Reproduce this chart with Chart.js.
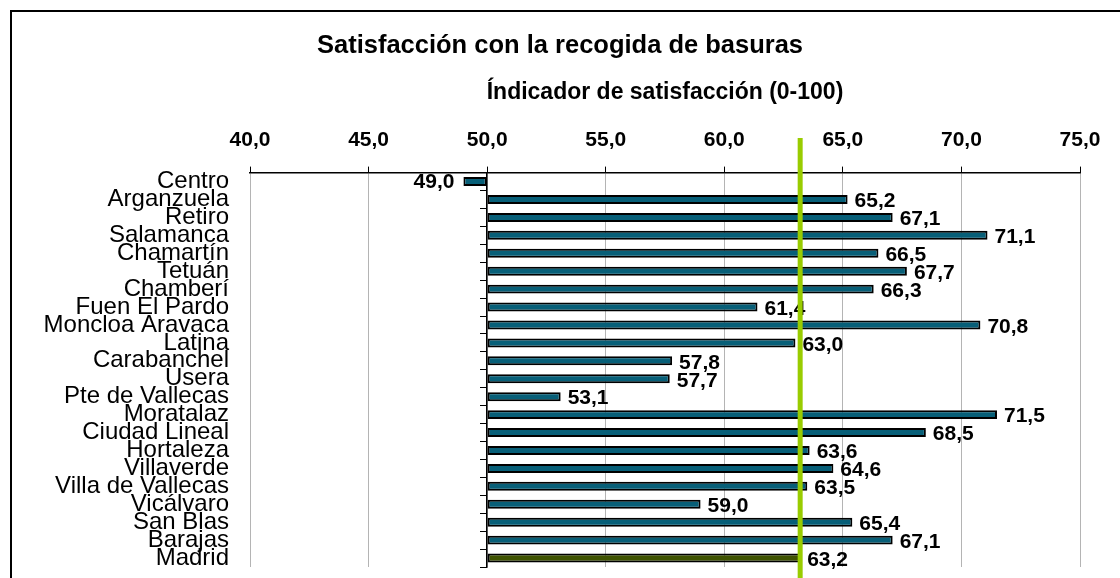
<!DOCTYPE html>
<html>
<head>
<meta charset="utf-8">
<script src="https://cdn.jsdelivr.net/npm/chart.js@4/dist/chart.umd.min.js"></script>
<style>
  body { margin: 0; background: #fff; }
  .wrap { position: relative; width: 1120px; height: 578px; overflow: hidden; }
  .frame { position: absolute; left: 10px; top: 10px; width: 1300px; height: 800px;
    border-left: 2px solid #000; border-top: 2px solid #000; pointer-events: none; }
</style>
</head>
<body>
<div class="wrap">
  <canvas id="myChart" width="1120" height="578"></canvas>
  <div class="frame"></div>
</div>
<script>
const districts = ['Centro', 'Arganzuela', 'Retiro', 'Salamanca', 'Chamartín', 'Tetuán', 'Chamberí',
  'Fuen El Pardo', 'Moncloa Aravaca', 'Latina', 'Carabanchel', 'Usera', 'Pte de Vallecas', 'Moratalaz',
  'Ciudad Lineal', 'Hortaleza', 'Villaverde', 'Villa de Vallecas', 'Vicálvaro', 'San Blas', 'Barajas', 'Madrid'];
const satisfaction = [49.0, 65.2, 67.1, 71.1, 66.5, 67.7, 66.3, 61.4, 70.8, 63.0, 57.8, 57.7, 53.1, 71.5,
  68.5, 63.6, 64.6, 63.5, 59.0, 65.4, 67.1, 63.2];
const axisTicks = [40, 45, 50, 55, 60, 65, 70, 75];
const barBase = 50;
const madridAverage = 63.2;

const fontFamily = '"Liberation Sans", Arial, sans-serif';
const colors = {
  bar: '#075f78',
  madrid: '#3f5300',
  line: '#99cc00',
  grid: '#b4b4b4',
};

const fmt = (v) => v.toFixed(1).replace('.', ',');

const barColors = districts.map((d) => (d === 'Madrid' ? colors.madrid : colors.bar));

// value labels next to the end of each bar
const valueLabels = {
  id: 'valueLabels',
  afterDatasetsDraw(chart) {
    const ctx = chart.ctx;
    const meta = chart.getDatasetMeta(0);
    ctx.save();
    ctx.font = 'bold 21px ' + fontFamily;
    ctx.fillStyle = '#000';
    ctx.textBaseline = 'middle';
    meta.data.forEach((bar, i) => {
      const v = satisfaction[i];
      if (v < barBase) {
        ctx.textAlign = 'right';
        ctx.fillText(fmt(v), bar.x - 9, bar.y + 1);
      } else {
        ctx.textAlign = 'left';
        ctx.fillText(fmt(v), bar.x + 7, bar.y + 2);
      }
    });
    ctx.restore();
  },
};

// green reference line at the Madrid average
const averageLine = {
  id: 'averageLine',
  afterDraw(chart) {
    const ctx = chart.ctx;
    const x = chart.scales.x.getPixelForValue(madridAverage);
    ctx.save();
    ctx.strokeStyle = colors.line;
    ctx.lineWidth = 5;
    ctx.beginPath();
    ctx.moveTo(x, 138);
    ctx.lineTo(x, chart.height);
    ctx.stroke();
    ctx.restore();
  },
};

const ctx = document.getElementById('myChart');

// eslint-disable-next-line no-undef
var chart = new Chart(ctx, { // eslint-disable-line no-unused-vars
  type: 'bar',
  data: {
    labels: districts,
    datasets: [{
      label: 'Satisfacción',
      data: satisfaction,
      base: barBase,
      backgroundColor: barColors,
      borderColor: '#000',
      borderWidth: 2,
      borderSkipped: false,
      categoryPercentage: 1,
      barPercentage: 0.5,
    }],
  },
  plugins: [valueLabels, averageLine],
  options: {
    indexAxis: 'y',
    responsive: false,
    animation: false,
    layout: { padding: { left: 40, right: 40, top: 0, bottom: 11 } },
    plugins: {
      legend: { display: false },
      tooltip: { enabled: false },
      title: {
        display: true,
        text: 'Satisfacción con la recogida de basuras',
        color: '#000',
        font: { family: fontFamily, size: 25.5, weight: 'bold', lineHeight: 1.2 },
        padding: { top: 31, bottom: 11 },
      },
    },
    scales: {
      x: {
        position: 'top',
        min: 40,
        max: 75,
        afterBuildTicks: (scale) => {
          scale.ticks = axisTicks.map((v) => ({ value: v }));
        },
        afterFit: (scale) => {
          scale.height = 100;
        },
        ticks: {
          callback: (v) => fmt(v),
          color: '#000',
          padding: 14,
          maxRotation: 0,
          font: { family: fontFamily, size: 21, weight: 'bold' },
        },
        grid: {
          color: colors.grid,
          lineWidth: 1,
          tickColor: '#000',
          tickLength: 6,
        },
        border: { display: true, color: '#000', width: 1.5 },
        title: {
          display: true,
          text: 'Índicador de satisfacción (0-100)',
          color: '#000',
          padding: { top: 6, bottom: 0 },
          font: { family: fontFamily, size: 23, weight: 'bold', lineHeight: 1.2 },
        },
      },
      y: {
        position: 'left',
        afterFit: (scale) => {
          scale.width = 210;
          scale.paddingTop = 0;
          scale.paddingBottom = 0;
        },
        ticks: {
          autoSkip: false,
          color: '#000',
          padding: 21,
          font: { family: fontFamily, size: 24 },
        },
        grid: { display: false, drawTicks: false },
        border: { display: false },
      },
      y2: {
        type: 'category',
        axis: 'y',
        position: { x: barBase },
        offset: true,
        ticks: { display: false },
        grid: {
          offset: true,
          drawOnChartArea: false,
          drawTicks: true,
          tickLength: 6,
          color: '#000',
          lineWidth: 1,
        },
        border: { display: true, color: '#000', width: 1.5 },
      },
    },
  },
});
</script>
</body>
</html>
